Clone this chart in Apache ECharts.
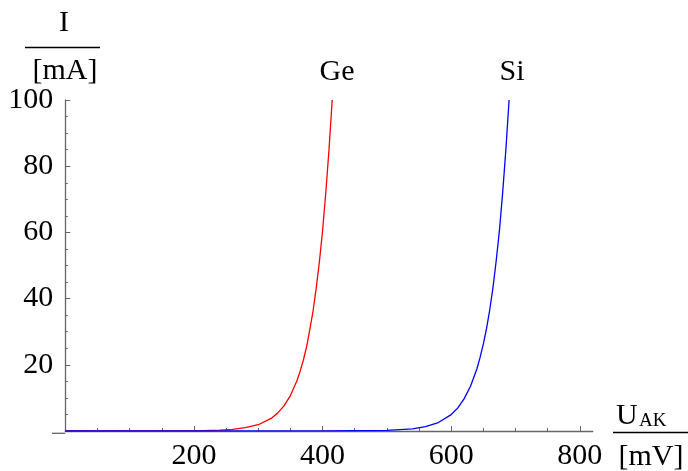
<!DOCTYPE html>
<html>
<head>
<meta charset="utf-8">
<script src="https://cdn.jsdelivr.net/npm/echarts@6/dist/echarts.min.js"></script>
<style>
  html, body { margin: 0; padding: 0; background: #fff; }
  #chart { width: 688px; height: 471px; }
</style>
</head>
<body>
<div id="chart"></div>
<script>
// Ge / Si diode curves, U in mV, I in mA
var geU = [0, 150, 200, 240, 260, 280, 300, 320, 330, 340, 350, 360, 365, 370, 375, 380, 385, 390, 395, 400, 405, 410, 415];
var geI = [0, 0.02, 0.06, 0.24, 0.5, 1.0, 1.9, 3.8, 5.4, 7.6, 10.7, 15.1, 18, 21.3, 25.3, 30.5, 36, 43, 51, 60.5, 72, 85, 100];
var siU = [0, 400, 500, 540, 560, 580, 600, 610, 620, 630, 640, 645, 650, 655, 660, 665, 670, 675, 680, 685, 690];
var siI = [0, 0.01, 0.18, 0.67, 1.3, 2.55, 4.96, 6.9, 9.7, 13.5, 18.8, 22.3, 26.3, 31, 36.7, 43.4, 51.5, 60.6, 72, 85, 100];

var xMajor = [200, 400, 600, 800];
var xMinor = [50, 100, 150, 250, 300, 350, 450, 500, 550, 650, 700, 750];
var yTicks = [20, 40, 60, 80, 100];

function pairs(u, i) {
	return u.map(function(v, k) { return [v, i[k]]; });
}

var serif = '"Liberation Serif", "Times New Roman", serif';
var axisGray = '#666';

var myChart = echarts.init(document.getElementById('chart'), null, { renderer: 'canvas' });

var option = {
	animation: false,
	backgroundColor: '#fff',
	grid: { left: 65.3, right: 95.3, top: 100, bottom: 37.7, containLabel: false },
	xAxis: [{
		type: 'value',
		min: 0,
		max: 820,
		position: 'bottom',
		splitLine: { show: false },
		axisLine: { lineStyle: { color: axisGray, width: 1.3 } },
		axisTick: { inside: true, length: 5, customValues: xMajor, lineStyle: { color: axisGray, width: 1 } },
		axisLabel: { customValues: xMajor, margin: 10, fontFamily: serif, fontSize: 30, color: '#000' }
	}, {
		// minor ticks only
		type: 'value',
		min: 0,
		max: 820,
		position: 'bottom',
		splitLine: { show: false },
		axisLine: { show: false, onZero: false },
		axisTick: { inside: true, length: 3, customValues: xMinor, lineStyle: { color: axisGray, width: 1 } },
		axisLabel: { show: false }
	}],
	yAxis: {
		type: 'value',
		min: 0,
		max: 100,
		interval: 20,
		splitLine: { show: false },
		axisLine: { lineStyle: { color: axisGray, width: 1.3 } },
		axisTick: { inside: true, length: 5, lineStyle: { color: axisGray, width: 1 } },
		minorTick: { show: true, splitNumber: 4, length: 2.5, lineStyle: { color: axisGray, width: 1 } },
		axisLabel: {
			margin: 12, fontFamily: serif, fontSize: 30, color: '#000',
			customValues: yTicks
		}
	},
	series: [{
		name: 'Ge',
		type: 'line',
		data: pairs(geU, geI),
		showSymbol: false,
		lineStyle: { color: '#ff0000', width: 1.3 },
		z: 3
	}, {
		name: 'Si',
		type: 'line',
		data: pairs(siU, siI),
		showSymbol: false,
		lineStyle: { color: '#0000ff', width: 1.3 },
		z: 4
	}],
	graphic: [
		// x axis stub left of the y axis
		{ type: 'line', z: 1, shape: { x1: 52, y1: 433.3, x2: 65.3, y2: 433.3 }, style: { stroke: axisGray, lineWidth: 1.3 } },
		// y axis title: I / [mA]
		{ type: 'text', x: 64, y: 23, style: { text: 'I', font: '30px ' + serif, fill: '#000', align: 'center', verticalAlign: 'middle' } },
		{ type: 'line', shape: { x1: 25, y1: 47.5, x2: 100, y2: 47.5 }, style: { stroke: '#000', lineWidth: 1.3 } },
		{ type: 'text', x: 65, y: 71, style: { text: '[mA]', font: '30px ' + serif, fill: '#000', align: 'center', verticalAlign: 'middle' } },
		// curve names
		{ type: 'text', x: 337, y: 72, style: { text: 'Ge', font: '30px ' + serif, fill: '#000', align: 'center', verticalAlign: 'middle' } },
		{ type: 'text', x: 512, y: 72, style: { text: 'Si', font: '30px ' + serif, fill: '#000', align: 'center', verticalAlign: 'middle' } },
		// x axis title: U_AK / [mV]
		{ type: 'text', x: 616, y: 416, style: { text: 'U', font: '30px ' + serif, fill: '#000', align: 'left', verticalAlign: 'middle' } },
		{ type: 'text', x: 639, y: 421, style: { text: 'AK', font: '19px ' + serif, fill: '#000', align: 'left', verticalAlign: 'middle' } },
		{ type: 'line', shape: { x1: 613, y1: 432.5, x2: 688, y2: 432.5 }, style: { stroke: '#000', lineWidth: 1.3 } },
		{ type: 'text', x: 651, y: 457, style: { text: '[mV]', font: '30px ' + serif, fill: '#000', align: 'center', verticalAlign: 'middle' } }
	]
};
myChart.setOption(option);
</script>
</body>
</html>
